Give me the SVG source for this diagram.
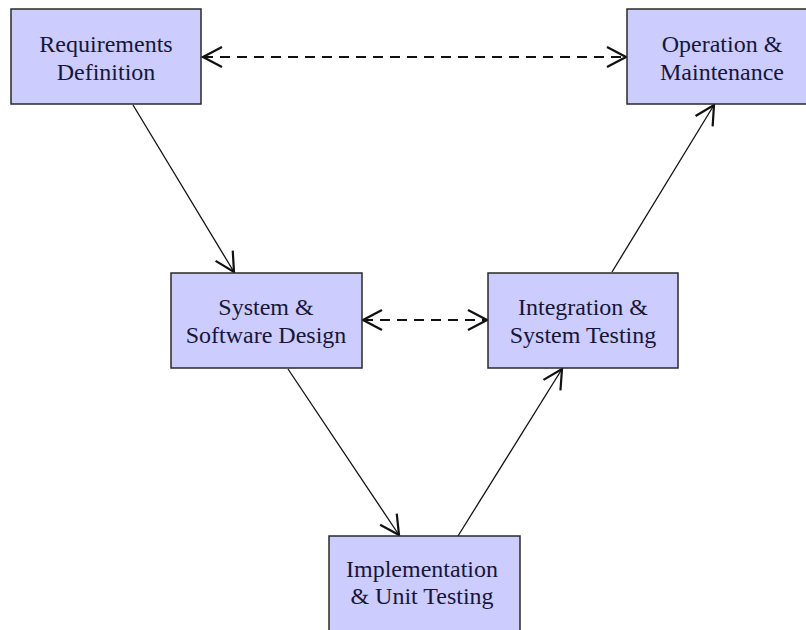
<svg xmlns="http://www.w3.org/2000/svg" width="806" height="630" viewBox="0 0 806 630">
  <style>
    .box { fill: #ccccff; stroke: #2a2a2a; stroke-width: 1.5; }
    .label { font-family: "Liberation Serif", "Times New Roman", serif; font-size: 24px; fill: #161638; text-anchor: middle; }
    .flow { stroke: #111; stroke-width: 1.3; fill: none; marker-end: url(#head); }
    .link { stroke: #111; stroke-width: 1.8; fill: none; stroke-dasharray: 10 7; marker-start: url(#headStart); marker-end: url(#head); }
  </style>
  <defs>
    <marker id="head" viewBox="-22 -12 24 24" markerWidth="24" markerHeight="24" refX="0" refY="0" orient="auto" markerUnits="userSpaceOnUse">
      <path d="M-19,-10 L0,0 L-19,10" fill="none" stroke="#111" stroke-width="2.2" stroke-dasharray="none"/>
    </marker>
    <marker id="headStart" viewBox="-2 -12 24 24" markerWidth="24" markerHeight="24" refX="0" refY="0" orient="auto" markerUnits="userSpaceOnUse">
      <path d="M19,-10 L0,0 L19,10" fill="none" stroke="#111" stroke-width="2.2" stroke-dasharray="none"/>
    </marker>
  </defs>
  <rect width="806" height="630" fill="#ffffff"/>

  <g id="connectors">
    <line class="link" x1="203" y1="57" x2="626" y2="57"/>
    <line class="link" x1="363" y1="320" x2="487" y2="320"/>
    <line class="flow" x1="133" y1="105" x2="234" y2="272"/>
    <line class="flow" x1="288" y1="369" x2="399" y2="535"/>
    <line class="flow" x1="458" y1="536" x2="562" y2="369"/>
    <line class="flow" x1="612" y1="272" x2="714" y2="105"/>
  </g>

  <g id="requirements">
    <rect class="box" x="11" y="9" width="190" height="95"/>
    <text class="label" x="106" y="52">Requirements</text>
    <text class="label" x="106" y="80">Definition</text>
  </g>
  <g id="operation">
    <rect class="box" x="627" y="9" width="190" height="95"/>
    <text class="label" x="722" y="52">Operation &amp;</text>
    <text class="label" x="722" y="80">Maintenance</text>
  </g>
  <g id="design">
    <rect class="box" x="171" y="273" width="191" height="95"/>
    <text class="label" x="266" y="315">System &amp;</text>
    <text class="label" x="266" y="343">Software Design</text>
  </g>
  <g id="integration">
    <rect class="box" x="488" y="273" width="190" height="95"/>
    <text class="label" x="583" y="315">Integration &amp;</text>
    <text class="label" x="583" y="343">System Testing</text>
  </g>
  <g id="implementation">
    <rect class="box" x="329" y="536" width="191" height="100"/>
    <text class="label" x="422" y="577">Implementation</text>
    <text class="label" x="422" y="604">&amp; Unit Testing</text>
  </g>
</svg>
